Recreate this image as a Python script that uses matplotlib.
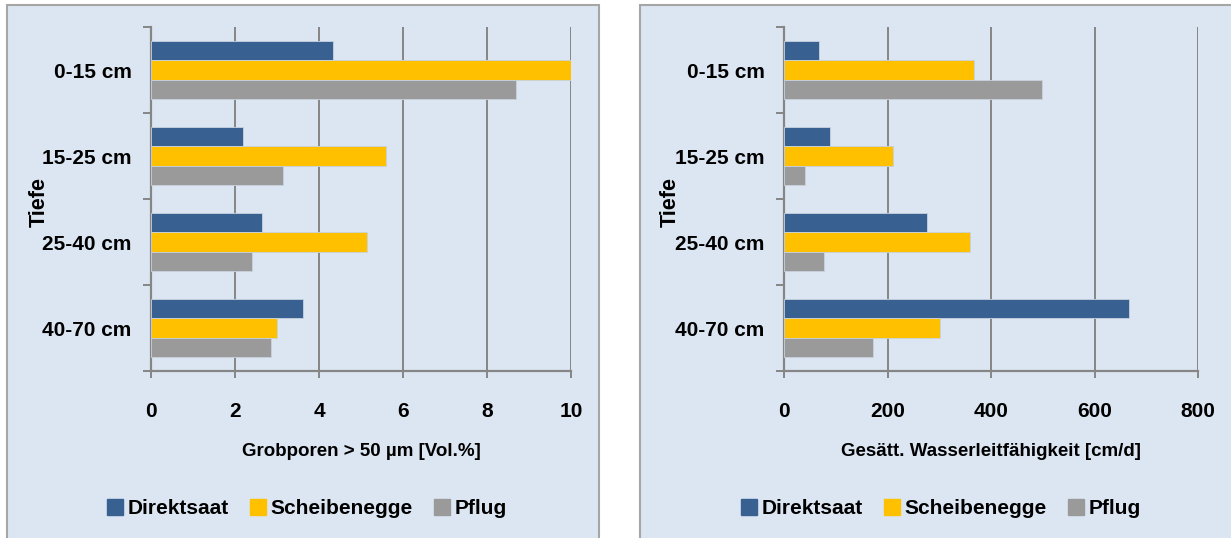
import numpy as np
import matplotlib
matplotlib.use("Agg")
import matplotlib.pyplot as plt
from matplotlib.patches import Rectangle
from matplotlib.lines import Line2D

plt.rcParams['font.family'] = ['Liberation Sans Narrow', 'Liberation Sans', 'DejaVu Sans']
plt.rcParams['font.weight'] = 'bold'
plt.rcParams['axes.labelweight'] = 'bold'

depths = ["0-15 cm", "15-25 cm", "25-40 cm", "40-70 cm"]
treatments = ["Direktsaat", "Scheibenegge", "Pflug"]
colors = ["#386192", "#FFC000", "#9A9A9A"]

# Grobporen > 50 µm [Vol.%]
pores_direkt = [4.33, 2.20, 2.64, 3.63]
pores_scheibe = [10.05, 5.59, 5.14, 3.01]
pores_pflug = [8.68, 3.14, 2.41, 2.85]

# gesaettigte Wasserleitfaehigkeit [cm/d]
ks_direkt = [67, 89, 277, 667]
ks_scheibe = [368, 211, 359, 301]
ks_pflug = [498, 41, 77, 172]

W, H = 1231, 538
fig = plt.figure(figsize=(W / 100, H / 100), dpi=100)
fig.patch.set_facecolor("white")

bg = "#DCE6F2"
edge = "#A6A6A6"
for x0, x1 in [(7, 599), (640, 1240)]:
    fig.patches.append(Rectangle((x0 / W, -0.05), (x1 - x0) / W, 1 - 5 / H + 0.05,
                                 transform=fig.transFigure, facecolor=bg,
                                 edgecolor=edge, linewidth=1.5, zorder=-5))


def draw_panel(ax, series, xmax, step, xlabel):
    ax.set_facecolor("none")
    y = np.arange(len(depths))
    h = 0.223
    for k, vals in enumerate(series):
        ax.barh(y + (k - 1) * h, vals, height=h, color=colors[k],
                edgecolor="#C8D2DE", linewidth=0.6, zorder=3)
    ax.set_ylim(len(depths) - 0.5, -0.5)
    ax.set_xlim(0, xmax)
    ticks = np.arange(0, xmax + step / 2, step)
    ax.set_xticks(ticks)
    ax.set_xticklabels([f"{t:g}" for t in ticks], fontsize=15)
    for t in ticks[1:]:
        ax.axvline(t, color="#868686", lw=1.4, zorder=1)
    ax.set_yticks(y)
    ax.set_yticklabels(depths, fontsize=15)
    ax.set_yticks(np.arange(-0.5, len(depths)), minor=True)
    ax.tick_params(axis="y", which="major", length=0, pad=14)
    ax.tick_params(axis="y", which="minor", length=6, color="#868686", width=1.4)
    ax.tick_params(axis="x", length=5, color="#868686", width=1.4, pad=17)
    for s in ["top", "right"]:
        ax.spines[s].set_visible(False)
    ax.spines["left"].set_color("#868686")
    ax.spines["left"].set_linewidth(1.6)
    ax.spines["bottom"].set_color("#868686")
    ax.spines["bottom"].set_linewidth(1.6)
    ax.set_xlabel(xlabel, fontsize=13.5, labelpad=16)


ax1 = fig.add_axes([151 / W, 1 - 371 / H, 420 / W, 344 / H])
draw_panel(ax1, [pores_direkt, pores_scheibe, pores_pflug], 10, 2,
           "Grobporen > 50 µm [Vol.%]")

ax2 = fig.add_axes([784 / W, 1 - 371 / H, 414 / W, 344 / H])
draw_panel(ax2, [ks_direkt, ks_scheibe, ks_pflug], 800, 200,
           "Gesätt. Wasserleitfähigkeit [cm/d]")

# "Tiefe" axis titles
for tx in [39 / W, 670 / W]:
    fig.text(tx, 1 - 202 / H, "Tiefe", rotation=90, ha="center", va="center",
             fontsize=15.5, fontweight="bold",
             family=["Liberation Sans", "DejaVu Sans"])

handles = [Line2D([], [], marker="s", linestyle="none", markersize=11,
                  markerfacecolor=c, markeredgecolor=c) for c in colors]
for cx in [306 / W, 940 / W]:
    fig.legend(handles, treatments, loc="center", bbox_to_anchor=(cx, 1 - 509 / H),
               ncol=3, frameon=False, fontsize=15, handletextpad=0.1,
               columnspacing=0.9, handlelength=1.0)

fig.savefig("out.png", dpi=100, facecolor=fig.get_facecolor())
